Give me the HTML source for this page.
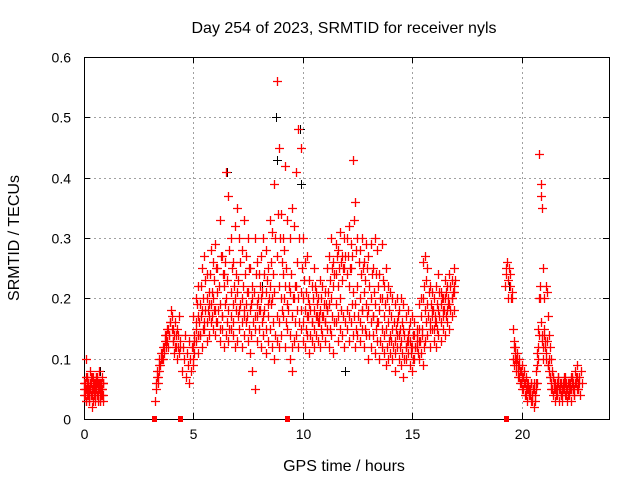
<!DOCTYPE html>
<html><head><meta charset="utf-8"><style>
body{margin:0;background:#fff}
svg{display:block;font-family:"Liberation Sans",sans-serif}
</style></head><body>
<svg id="chart" width="640" height="480">
<text x="344" y="33" font-size="16" text-anchor="middle">Day 254 of 2023, SRMTID for receiver nyls</text>
<text x="344" y="471" font-size="16" text-anchor="middle">GPS time / hours</text>
<text transform="translate(19,238) rotate(-90)" font-size="16" text-anchor="middle">SRMTID / TECUs</text>
<g id="grid"></g>
<g id="axes"></g>
<g id="marks"></g>
</svg>
<script>
const xTicks=[0,5,10,15,20];
const yTicks=[0,0.1,0.2,0.3,0.4,0.5,0.6];
const yTickLabels=["0","0.1","0.2","0.3","0.4","0.5","0.6"];
const segStart=[0.0,0.02,3.25,3.3,4.5,5.0,5.0,5.0,5.05,19.25,19.6,19.62,5.03,0.01,19.64];
const segStep=[0.025,0.03,0.04,0.05,0.04,0.1,0.1,0.1,0.1,0.03,0.05,0.05,0.1,0.035,0.05];
const segValues=[
[0.05,0.04,0.06,0.1,0.03,0.05,0.07,0.04,0.06,0.03,0.05,0.08,0.04,0.06,0.05,0.02,0.07,0.05,0.04,0.06,0.03,0.05,0.07,0.04,0.06,0.05,0.03,0.08,0.05,0.04,0.06,0.05,0.07,0.04,0.06,0.03],
[0.04,0.06,0.05,0.03,0.07,0.05,0.06,0.04,0.05,0.06,0.04,0.07,0.05,0.03,0.06,0.05,0.04,0.06,0.05,0.07,0.04,0.05,0.06,0.03,0.05,0.06,0.04,0.05,0.06,0.04],
[0.03,0.05,0.07,0.06,0.08,0.1,0.09,0.11,0.1,0.12,0.11,0.13,0.12,0.14,0.13,0.15,0.14,0.16,0.18,0.17,0.15,0.13,0.14,0.16,0.12,0.15,0.14,0.17,0.12,0.13],
[0.06,0.08,0.07,0.09,0.1,0.11,0.1,0.12,0.14,0.13,0.15,0.12,0.14,0.16,0.15,0.13,0.11,0.12,0.14,0.1,0.12,0.11],
[0.08,0.12,0.1,0.14,0.07,0.11,0.09,0.13,0.06,0.1,0.08,0.12,0.09,0.11],
[0.17,0.2,0.22,0.19,0.25,0.27,0.24,0.21,0.28,0.26,0.29,0.25,0.33,0.27,0.24,0.41,0.37,0.3,0.26,0.32,0.35,0.3,0.28,0.33,0.27,0.3,0.25,0.22,0.3,0.26,0.24,0.27,0.3,0.28,0.25,0.33,0.31,0.39,0.56,0.45,0.34,0.3,0.42,0.33,0.3,0.35,0.32,0.41,0.48,0.45,0.3,0.26,0.27,0.23,0.22,0.25,0.21,0.2,0.23,0.22,0.21,0.25,0.27,0.3,0.26,0.29,0.28,0.31,0.27,0.3,0.3,0.32,0.29,0.43,0.36,0.3,0.28,0.3,0.26,0.29,0.27,0.29,0.25,0.3,0.28,0.24,0.29,0.22,0.25,0.22,0.21,0.2,0.19,0.2,0.18,0.2,0.19,0.17,0.18,0.16,0.17,0.16,0.15,0.19,0.2,0.26,0.27,0.25,0.22,0.21,0.2,0.22,0.24,0.21,0.2,0.23,0.22,0.24,0.23,0.25],
[0.12,0.15,0.17,0.14,0.18,0.16,0.2,0.17,0.19,0.2,0.18,0.21,0.19,0.17,0.22,0.2,0.18,0.21,0.19,0.2,0.21,0.18,0.2,0.17,0.19,0.21,0.18,0.2,0.17,0.19,0.18,0.2,0.17,0.21,0.19,0.22,0.2,0.21,0.27,0.22,0.2,0.24,0.22,0.19,0.21,0.17,0.2,0.22,0.2,0.21,0.2,0.18,0.17,0.19,0.16,0.18,0.17,0.16,0.18,0.17,0.16,0.18,0.19,0.2,0.22,0.24,0.22,0.2,0.23,0.25,0.24,0.22,0.25,0.21,0.19,0.22,0.2,0.18,0.21,0.19,0.18,0.2,0.17,0.19,0.16,0.18,0.2,0.17,0.15,0.16,0.14,0.15,0.13,0.16,0.14,0.13,0.15,0.12,0.14,0.13,0.12,0.14,0.13,0.15,0.17,0.2,0.18,0.19,0.16,0.17,0.15,0.16,0.18,0.19,0.17,0.2,0.18,0.19,0.2,0.22],
[0.1,0.13,0.11,0.14,0.12,0.15,0.13,0.14,0.16,0.15,0.14,0.16,0.13,0.15,0.12,0.14,0.13,0.15,0.14,0.12,0.13,0.15,0.12,0.14,0.16,0.13,0.11,0.08,0.05,0.13,0.15,0.12,0.14,0.11,0.13,0.15,0.12,0.1,0.13,0.12,0.14,0.17,0.12,0.15,0.1,0.08,0.13,0.14,0.12,0.15,0.13,0.12,0.14,0.11,0.13,0.12,0.14,0.13,0.12,0.14,0.13,0.15,0.12,0.14,0.11,0.16,0.13,0.15,0.14,0.12,0.15,0.13,0.16,0.14,0.12,0.14,0.13,0.15,0.12,0.14,0.1,0.12,0.14,0.11,0.13,0.1,0.12,0.11,0.09,0.1,0.11,0.1,0.08,0.12,0.1,0.09,0.07,0.1,0.11,0.09,0.08,0.1,0.12,0.1,0.11,0.09,0.13,0.14,0.12,0.15,0.13,0.12,0.14,0.13,0.15,0.14,0.16,0.15,0.17,0.18],
[0.14,0.19,0.16,0.22,0.2,0.23,0.18,0.24,0.21,0.23,0.25,0.22,0.27,0.24,0.26,0.23,0.28,0.25,0.22,0.24,0.23,0.26,0.22,0.24,0.21,0.25,0.19,0.21,0.24,0.2,0.22,0.21,0.24,0.23,0.2,0.26,0.24,0.3,0.34,0.3,0.26,0.28,0.25,0.22,0.24,0.2,0.22,0.26,0.3,0.25,0.23,0.21,0.2,0.18,0.2,0.22,0.19,0.17,0.2,0.19,0.19,0.21,0.23,0.25,0.24,0.27,0.25,0.26,0.25,0.27,0.27,0.25,0.27,0.33,0.28,0.26,0.24,0.25,0.23,0.25,0.22,0.24,0.21,0.24,0.22,0.2,0.23,0.19,0.2,0.18,0.17,0.16,0.15,0.17,0.15,0.16,0.14,0.13,0.15,0.12,0.14,0.12,0.11,0.13,0.15,0.22,0.23,0.21,0.19,0.18,0.17,0.19,0.21,0.2,0.18,0.21,0.2,0.22,0.21,0.23],
[0.22,0.25,0.24,0.26,0.23,0.2,0.25,0.24,0.22,0.2,0.21,0.2],
[0.15,0.13,0.12,0.1,0.11,0.09,0.1,0.08,0.09,0.07,0.08,0.06,0.07,0.05,0.06,0.04,0.05,0.06,0.04,0.05,0.03,0.05,0.06,0.1,0.14,0.2,0.39,0.35,0.25,0.2,0.22,0.21,0.17,0.14,0.12,0.1,0.08,0.07,0.06,0.05,0.06,0.07,0.05,0.06,0.04,0.05,0.06,0.05,0.07,0.06,0.05,0.04,0.06,0.05,0.07,0.06,0.05,0.08,0.06,0.07,0.05,0.06,0.08,0.06],
[0.1,0.09,0.11,0.08,0.07,0.09,0.06,0.08,0.05,0.07,0.06,0.04,0.05,0.03,0.05,0.04,0.06,0.03,0.05,0.02,0.04,0.06,0.09,0.12,0.44,0.37,0.13,0.1,0.14,0.12,0.1,0.13,0.09,0.08,0.07,0.05,0.04,0.06,0.03,0.05,0.04,0.06,0.03,0.05,0.04,0.03,0.06,0.04,0.05,0.03,0.04,0.06,0.05,0.03,0.07,0.05,0.04,0.06,0.09,0.05,0.07,0.04],
[0.13,0.16,0.14,0.17,0.15,0.18,0.16,0.19,0.17,0.18,0.16,0.18,0.15,0.17,0.19,0.16,0.15,0.17,0.16,0.18,0.17,0.19,0.16,0.18,0.17,0.15,0.14,0.16,0.15,0.17,0.18,0.16,0.18,0.15,0.17,0.19,0.16,0.14,0.17,0.16,0.18,0.2,0.16,0.18,0.14,0.12,0.16,0.18,0.16,0.18,0.16,0.15,0.17,0.14,0.16,0.15,0.17,0.16,0.15,0.17,0.16,0.18,0.15,0.17,0.16,0.19,0.17,0.18,0.17,0.16,0.18,0.17,0.19,0.17,0.15,0.17,0.16,0.18,0.15,0.17,0.14,0.16,0.17,0.15,0.16,0.13,0.15,0.14,0.12,0.13,0.13,0.12,0.11,0.14,0.12,0.11,0.1,0.12,0.13,0.11,0.1,0.12,0.14,0.13,0.14,0.12,0.16,0.17,0.15,0.18,0.16,0.15,0.17,0.16,0.18,0.17,0.19,0.18,0.2,0.21],
[0.06,0.05,0.07,0.04,0.06,0.05,0.03,0.06,0.05,0.07,0.04,0.06,0.05,0.04,0.06,0.05,0.07,0.04,0.06,0.05,0.03,0.06,0.04,0.05,0.06],
[0.12,0.1,0.09,0.1,0.08,0.07,0.08,0.06,0.07,0.05,0.06,0.04,0.06,0.05,0.04,0.05,0.03,0.04,0.05,0.06,0.08,0.11,0.15,0.2,0.22,0.16,0.14,0.12,0.15,0.13,0.11,0.09,0.1,0.07,0.06,0.05,0.07,0.05,0.06,0.04,0.05,0.07,0.05,0.06,0.04,0.05,0.07,0.06,0.04,0.05,0.06,0.05,0.07,0.06,0.05,0.04,0.06,0.07,0.05,0.06]
];
const blackTimes=[0.7,3.6,5.0,6.5,8.1,8.75,8.8,9.85,9.9,10.0,11.9,19.4];
const blackValues=[0.08,0.12,0.13,0.41,0.22,0.5,0.43,0.48,0.39,0.3,0.08,0.22];
const zeroTimes=[3.2,4.4,9.3,19.3];

const X0=84,X1=609,Y0=419,Y1=57;
function xs(t){return X0+t*(X1-X0)/24;}
function ys(v){return Y0-v*(Y0-Y1)/0.6;}
const NS="http://www.w3.org/2000/svg";
function mk(tag,attrs,parent){const e=document.createElementNS(NS,tag);for(const k in attrs)e.setAttribute(k,attrs[k]);parent.appendChild(e);return e;}
const grid=document.getElementById('grid'),axes=document.getElementById('axes'),marks=document.getElementById('marks');
xTicks.forEach(t=>{
  const x=Math.round(xs(t))+0.5;
  if(t>0){const g=mk('line',{x1:x,x2:x,y1:Y1,y2:Y0,stroke:'#a0a0a0','stroke-dasharray':'2,3'},grid);
  
  }
  mk('line',{x1:x,x2:x,y1:Y0,y2:Y0-6,stroke:'#000'},axes);
  mk('line',{x1:x,x2:x,y1:Y1,y2:Y1+6,stroke:'#000'},axes);
  const l=mk('text',{x:x,y:Y0+20,'font-size':14,'text-anchor':'middle'},axes);l.textContent=t;
  
  
});
yTicks.forEach((v,i)=>{
  const y=Math.round(ys(v))+0.5;
  if(v>0&&v<0.6){const g=mk('line',{x1:X0,x2:X1,y1:y,y2:y,stroke:'#a0a0a0','stroke-dasharray':'2,3'},grid);
  
  }
  mk('line',{x1:X0,x2:X0+6,y1:y,y2:y,stroke:'#000'},axes);
  mk('line',{x1:X1,x2:X1-6,y1:y,y2:y,stroke:'#000'},axes);
  const l=mk('text',{x:X0-13,y:y+5,'font-size':14,'text-anchor':'end'},axes);l.textContent=yTickLabels[i];
  
  
});
mk('rect',{x:X0+0.5,y:Y1+0.5,width:X1-X0,height:Y0-Y1,fill:'none',stroke:'#000'},axes);
function plus(t,v){
  const x=Math.round(xs(t))+0.5,y=Math.round(ys(v))+0.5;
  return 'M'+(x-4.5)+' '+y+'h9M'+x+' '+(y-4.5)+'v9';
}
let bd='';blackTimes.forEach((t,i)=>{bd+=plus(t+0.02,blackValues[i]);});
const bp=mk('path',{d:bd,stroke:'#000000','stroke-width':1,fill:'none'},marks);


segValues.forEach((vals,i)=>{
  let rd='';
  vals.forEach((v,j)=>{rd+=plus(segStart[i]+j*segStep[i],v);});
  const rp=mk('path',{d:rd,stroke:'#ff0000','stroke-width':1.3,fill:'none'},marks);
  
  
});
zeroTimes.forEach(t=>{
  const z=mk('rect',{x:Math.round(xs(t))-2,y:Y0-3,width:5,height:6,fill:'#ff0000'},marks);
  
  
});
</script>
</body></html>
